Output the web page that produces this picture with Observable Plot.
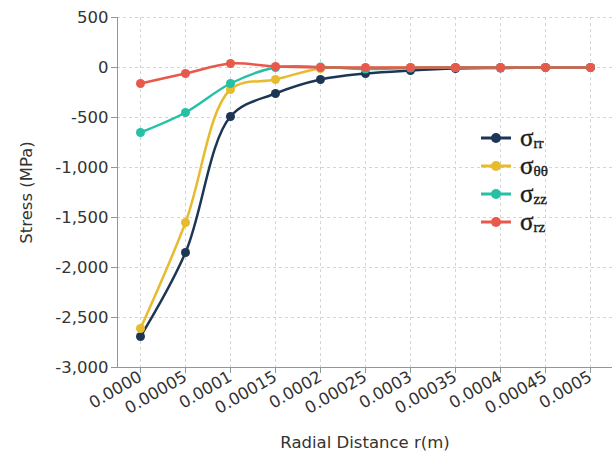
<!DOCTYPE html>
<html><head><meta charset="utf-8">
<script src="https://cdn.jsdelivr.net/npm/d3@7"></script>
<script src="https://cdn.jsdelivr.net/npm/@observablehq/plot@0.6"></script>
<style>
body{margin:0;background:#fff;}
#wrap{position:relative;width:612px;height:461px;}
#legend{position:absolute;left:480px;top:124px;}
.item{display:flex;align-items:center;height:28px;}
.lab{font-family:"Liberation Serif","DejaVu Serif",serif;font-size:25px;color:#1a1a1a;margin-left:8px;line-height:1;-webkit-text-stroke:0.4px #1a1a1a;}
.lab sub{font-size:15px;vertical-align:-2px;}
</style></head><body><div id="wrap"><div id="legend"></div></div>
<script>
const xLabels = ["0.0000","0.00005","0.0001","0.00015","0.0002","0.00025","0.0003","0.00035","0.0004","0.00045","0.0005"];
const yTicks = [-3000,-2500,-2000,-1500,-1000,-500,0,500];
const seriesNames = ["rr","θθ","zz","rz"];
const seriesColors = ["#1d3656","#e8bb2f","#25c0a6","#e8584b"];
const sigmaRR = [-2690,-1850,-490,-260,-120,-60,-30,-10,-5,0,0];
const sigmaTT = [-2610,-1550,-220,-120,-10,-5,0,0,0,0,0];
const sigmaZZ = [-650,-450,-160,0,5,-15,-5,0,0,0,0];
const sigmaRZ = [-160,-60,40,10,0,0,0,0,0,0,0];

const seriesValues = [sigmaRR, sigmaTT, sigmaZZ, sigmaRZ];
const data = seriesNames.flatMap((s, i) => seriesValues[i].map((v, j) => ({x: xLabels[j], y: v, s})));
const fmt = d => d.toLocaleString("en-US");
const font = "'DejaVu Sans', sans-serif";

const chart = Plot.plot({
  width: 612, height: 461,
  marginLeft: 117, marginRight: 0, marginTop: 17, marginBottom: 94,
  style: {fontFamily: font, fontSize: "16px", color: "#333", background: "#fff"},
  x: {type: "point", domain: xLabels, padding: 0.4},
  y: {domain: [-3000, 500], ticks: yTicks},
  color: {domain: seriesNames, range: seriesColors},
  marks: [
    Plot.gridY(yTicks, {stroke: "#cfd6d6", strokeOpacity: 1, strokeDasharray: "3,3"}),
    Plot.gridX(xLabels, {stroke: "#cfd6d6", strokeOpacity: 1, strokeDasharray: "3,3"}),
    Plot.frame({anchor: "left", stroke: "#8a9a9a"}),
    Plot.frame({anchor: "bottom", stroke: "#8a9a9a"}),
    Plot.axisY(yTicks, {tickSize: 6, tickPadding: 3, tickFormat: fmt, fontSize: 16.5, stroke: "#8a9a9a",
      label: "Stress (MPa)", labelAnchor: "center", labelArrow: "none", labelOffset: 97}),
    Plot.axisX(xLabels, {tickSize: 6, tickPadding: 2, tickRotate: -30, fontSize: 16.5, stroke: "#8a9a9a",
      label: "Radial Distance r(m)", labelAnchor: "center", labelArrow: "none", labelOffset: 80}),
    Plot.line(data, {x: "x", y: "y", z: "s", stroke: "s", strokeWidth: 2.5, curve: "catmull-rom"}),
    Plot.dot(data, {x: "x", y: "y", fill: "s", r: 4.5})
  ]
});
document.getElementById("wrap").prepend(chart);

const legend = document.getElementById("legend");
seriesNames.forEach((s, i) => {
  const item = document.createElement("div");
  item.className = "item";
  item.innerHTML = `<svg width="32" height="12"><line x1="1" x2="31" y1="6" y2="6" stroke="${seriesColors[i]}" stroke-width="3"/><circle cx="16" cy="6" r="5" fill="${seriesColors[i]}"/></svg><span class="lab">σ<sub>${s}</sub></span>`;
  legend.appendChild(item);
});
</script>
</body></html>
